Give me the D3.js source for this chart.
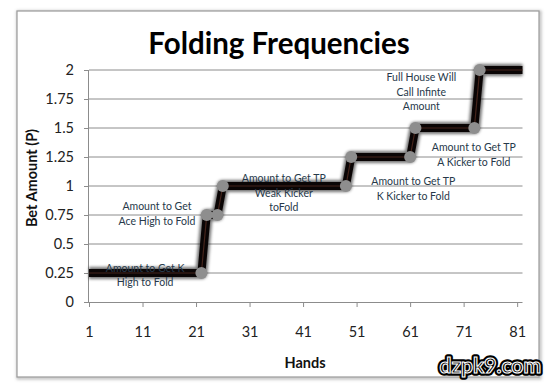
<!DOCTYPE html>
<html>
<head>
<meta charset="utf-8">
<script src="https://cdn.jsdelivr.net/npm/d3@7"></script>
<style>
  body { margin: 0; background: #fff; }
  text { font-family: Lato, "Open Sans", sans-serif; }
</style>
</head>
<body>
<svg id="chart"></svg>
<script>
// Step vertices of the bet line (hand, bet amount in P)
const stepHands  = [1, 22, 23, 25, 26, 49, 50, 61, 62, 73, 74, 82];
const stepValues = [0.25, 0.25, 0.75, 0.75, 1, 1, 1.25, 1.25, 1.5, 1.5, 2, 2];

// Points carrying a marker
const markerHands  = [22, 23, 25, 26, 49, 50, 61, 62, 73, 74];
const markerValues = [0.25, 0.75, 0.75, 1, 1, 1.25, 1.25, 1.5, 1.5, 2];

const xTickLabels = [1, 11, 21, 31, 41, 51, 61, 71, 81];
const yTickLabels = [0, 0.25, 0.5, 0.75, 1, 1.25, 1.5, 1.75, 2];

// Annotation text, anchored in data units (hand, amount of first line)
const noteLines = [
  ['Amount to Get K', 'High to Fold'],
  ['Amount to Get', 'Ace High to Fold'],
  ['Amount to Get TP', 'Weak Kicker', 'toFold'],
  ['Amount to Get TP', 'K Kicker to Fold'],
  ['Amount to Get TP', 'A Kicker to Fold'],
  ['Full House  Will', 'Call Infinte', 'Amount']
];
const noteHands   = [11.5, 13.7, 37.4, 61.6, 72.9, 63.1];
const noteAmounts = [0.29, 0.82, 1.065, 1.035, 1.33, 1.935];

const W = 553, H = 387;
const margin = {left: 89, right: 30, top: 70, bottom: 85};

const svg = d3.select('#chart').attr('width', W).attr('height', H);

const defs = svg.append('defs');
defs.append('filter').attr('id', 'soft')
    .attr('x', '-20%').attr('y', '-20%').attr('width', '140%').attr('height', '140%')
  .append('feGaussianBlur').attr('stdDeviation', 1.6);
defs.append('filter').attr('id', 'frameShadow')
    .attr('x', '-5%').attr('y', '-5%').attr('width', '110%').attr('height', '110%')
  .append('feGaussianBlur').attr('stdDeviation', 1.5);

// chart frame
svg.append('rect')
    .attr('x', 18).attr('y', 12).attr('width', 522).attr('height', 366)
    .attr('fill', 'none').attr('stroke', '#bbb').attr('stroke-width', 3)
    .attr('filter', 'url(#frameShadow)');
svg.append('rect')
    .attr('x', 17).attr('y', 11).attr('width', 522).attr('height', 366)
    .attr('fill', '#fff').attr('stroke', '#9a9a9a').attr('stroke-width', 1.2);

const x = d3.scaleLinear().domain([1, 82]).range([margin.left, W - margin.right - 0.5]);
const y = d3.scaleLinear().domain([0, 2]).range([H - margin.bottom, margin.top]);

// gridlines
svg.append('g')
  .selectAll('line')
  .data(yTickLabels.filter(d => d > 0))
  .join('line')
    .attr('x1', x(1)).attr('x2', x(82))
    .attr('y1', d => y(d)).attr('y2', d => y(d))
    .attr('stroke', '#8c8c8c').attr('stroke-width', 1);

// y axis
const yAxis = d3.axisLeft(y).tickValues(yTickLabels).tickSize(5).tickPadding(10)
    .tickFormat(d => String(d));
svg.append('g')
    .attr('transform', `translate(${x(1)},0)`)
    .call(yAxis)
    .call(g => g.select('.domain').attr('stroke', '#8c8c8c').attr('d', `M-0.5,${y(0)}V${y(2)}`))
    .call(g => g.selectAll('.tick line').attr('stroke', '#8c8c8c'))
    .call(g => g.selectAll('.tick text').attr('fill', '#222').style('font-size', '14.5px')
        .style('font-family', 'Lato, sans-serif'));

// x axis
const xAxis = d3.axisBottom(x).tickValues(xTickLabels).tickSize(5).tickPadding(20)
    .tickFormat(d => String(d));
svg.append('g')
    .attr('transform', `translate(0,${y(0)})`)
    .call(xAxis)
    .call(g => g.select('.domain').attr('stroke', '#8c8c8c').attr('d', `M${x(1)},0.5H${x(82)}`))
    .call(g => g.selectAll('.tick line').attr('stroke', '#8c8c8c'))
    .call(g => g.selectAll('.tick text').attr('fill', '#222').style('font-size', '14.5px')
        .style('font-family', 'Lato, sans-serif'));

// line
const steps = stepHands.map((h, i) => [h, stepValues[i]]);
const line = d3.line().x(d => x(d[0])).y(d => y(d[1]));

svg.append('path').datum(steps)
    .attr('d', line).attr('fill', 'none')
    .attr('stroke', '#000').attr('stroke-opacity', 0.55).attr('stroke-width', 12)
    .attr('stroke-linejoin', 'round')
    .attr('filter', 'url(#soft)');
svg.append('path').datum(steps)
    .attr('d', line).attr('fill', 'none')
    .attr('stroke', '#0a0505').attr('stroke-width', 8)
    .attr('stroke-linejoin', 'round');
svg.append('path').datum(steps)
    .attr('d', line).attr('fill', 'none')
    .attr('stroke', '#6e3a2c').attr('stroke-width', 1.2).attr('stroke-opacity', 0.6)
    .attr('stroke-linejoin', 'round');

// markers
svg.append('g')
  .selectAll('circle')
  .data(markerHands.map((h, i) => [h, markerValues[i]]))
  .join('circle')
    .attr('cx', d => x(d[0])).attr('cy', d => y(d[1]))
    .attr('r', 6)
    .attr('fill', '#8e8e8e');

// annotations
const notes = svg.append('g')
    .attr('fill', '#27394a')
    .style('font-size', '10.5px')
    .attr('text-anchor', 'middle');
noteLines.forEach((lines, i) => {
  const t = notes.append('text')
      .attr('x', x(noteHands[i]))
      .attr('y', y(noteAmounts[i]) + 3.5);
  lines.forEach((s, j) => {
    t.append('tspan').attr('x', x(noteHands[i])).attr('dy', j === 0 ? 0 : 14.6).text(s);
  });
});

// title
svg.append('text')
    .attr('x', 279).attr('y', 54)
    .attr('text-anchor', 'middle')
    .style('font-size', '29.5px').style('font-weight', 'bold')
    .attr('fill', '#000')
    .text('Folding Frequencies');

// axis titles
svg.append('text')
    .attr('x', 305).attr('y', 368)
    .attr('text-anchor', 'middle')
    .style('font-size', '14.5px').style('font-weight', 'bold')
    .attr('fill', '#111')
    .text('Hands');

svg.append('text')
    .attr('transform', 'rotate(-90)')
    .attr('x', -178).attr('y', 37)
    .attr('text-anchor', 'middle')
    .style('font-size', '14.5px').style('font-weight', 'bold')
    .attr('fill', '#111')
    .text('Bet Amount (P)');

// watermark
const wm = svg.append('g')
    .style('font-family', '"Liberation Sans", Arial, sans-serif')
    .style('font-size', '21px').style('font-weight', 'bold')
    .attr('text-anchor', 'end');
wm.append('text').attr('x', 541).attr('y', 373)
    .attr('fill', '#000').attr('stroke', '#000').attr('stroke-width', 5.5)
    .attr('stroke-linejoin', 'round')
    .text('dzpk9.com');
wm.append('text').attr('x', 541).attr('y', 373)
    .attr('fill', '#000').attr('stroke', '#fff').attr('stroke-width', 1.1)
    .text('dzpk9.com');
</script>
</body>
</html>
